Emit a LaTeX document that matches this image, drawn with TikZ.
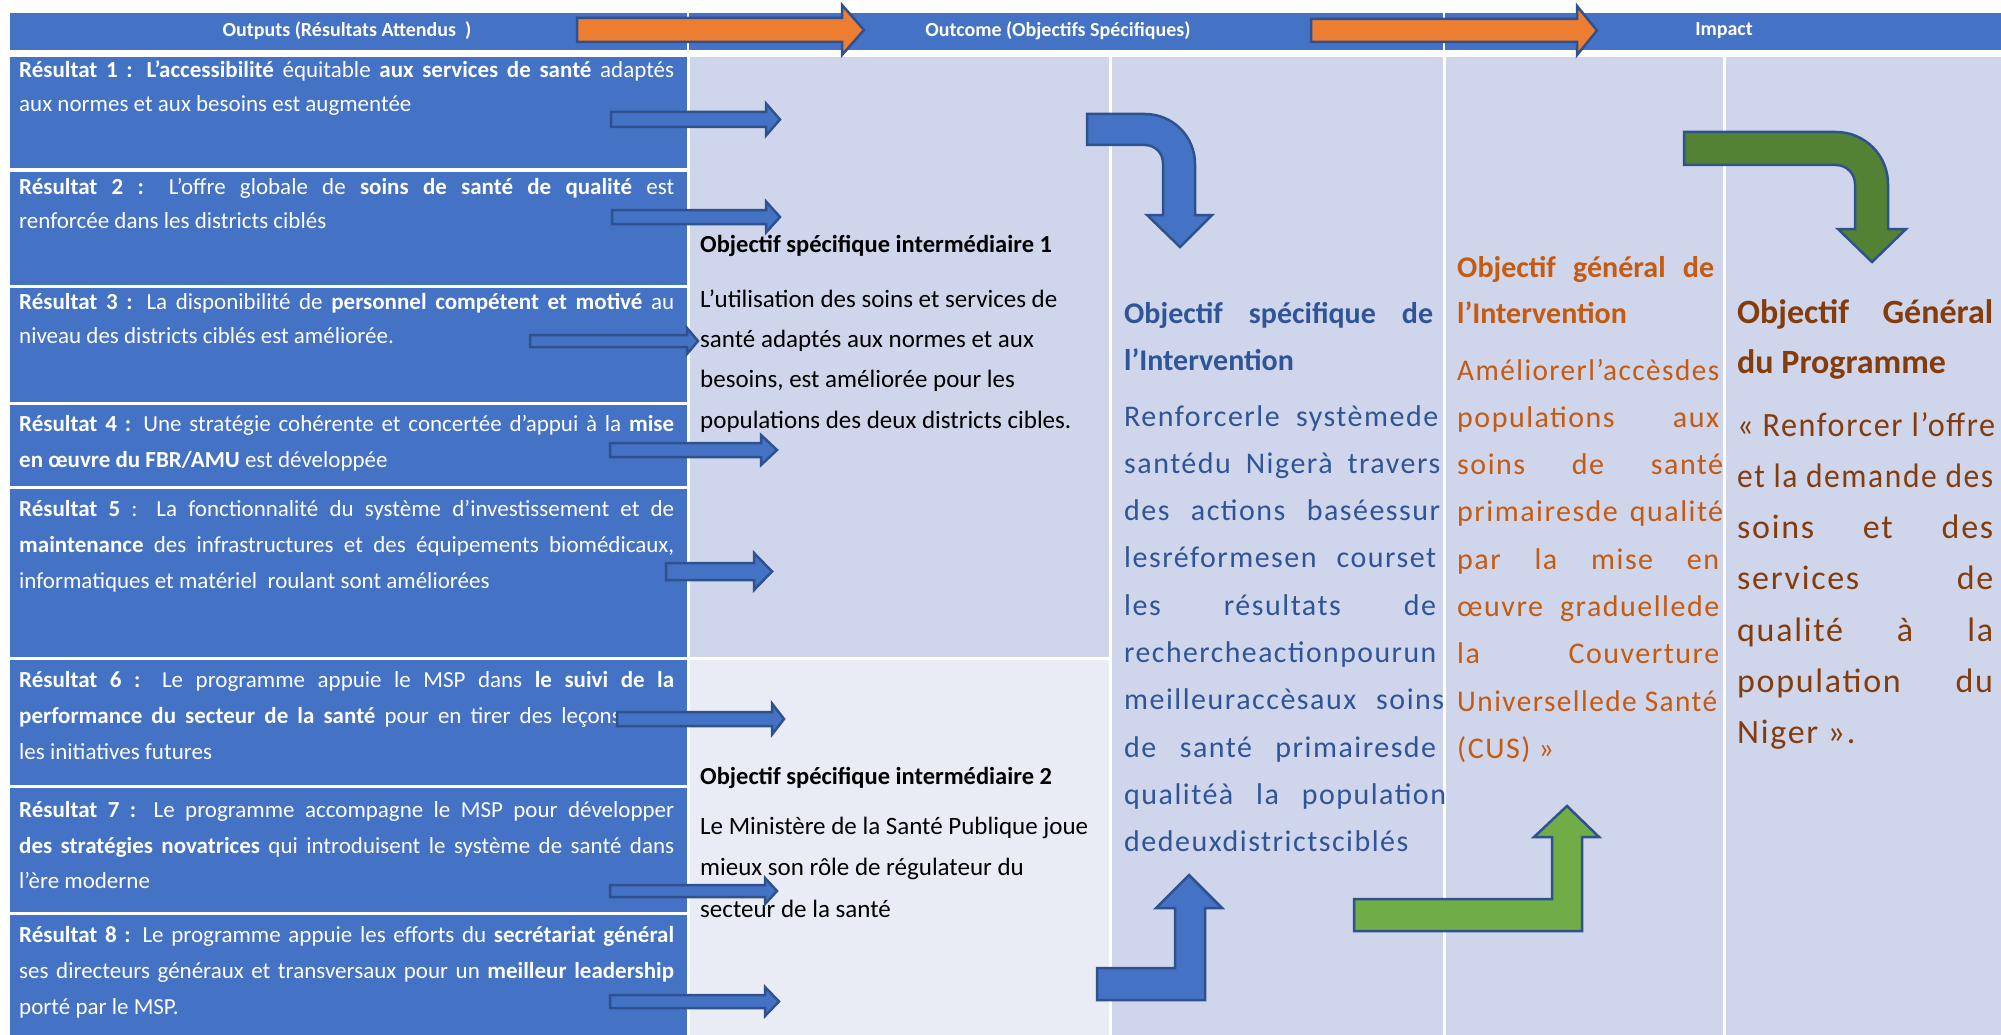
\documentclass[tikz,border=0pt]{standalone}
\usepackage{fontspec}
\usepackage{graphicx}
\setmainfont{Carlito}
\newfontfamily\lsp[LetterSpace=5]{Carlito}
\definecolor{hdr}{HTML}{4472C4}
\definecolor{lite}{HTML}{CFD5EA}
\definecolor{litetwo}{HTML}{E9EBF5}
\definecolor{bord}{HTML}{2F528F}
\definecolor{orng}{HTML}{ED7D31}
\definecolor{grnd}{HTML}{548235}
\definecolor{grnl}{HTML}{70AD47}
\definecolor{tblue}{HTML}{2F5597}
\definecolor{torange}{HTML}{C55A11}
\definecolor{tbrown}{HTML}{843C0C}
\newsavebox\jlbox
\newcommand\jl[2]{\sbox\jlbox{#2}\ifdim\wd\jlbox>#1\relax\resizebox{#1}{\height}{\usebox\jlbox}\else\makebox[#1][s]{#2}\fi}
\newcommand\rarr[7]{% style, x1, xtip, y, bodyhalf, headhalf, headlen
 \filldraw[#1] (#2,#4-#5) -- (#3-#7,#4-#5) -- (#3-#7,#4-#6) -- (#3,#4) -- (#3-#7,#4+#6) -- (#3-#7,#4+#5) -- (#2,#4+#5) -- cycle;}
\tikzset{
 lt/.style={anchor=base west, inner sep=0pt, text=white, font=\fontsize{23}{28}\selectfont},
 ct/.style={anchor=base west, inner sep=0pt, text=black, font=\fontsize{25}{30}\selectfont},
 cth/.style={anchor=base west, inner sep=0pt, text=black, font=\fontsize{24.5}{30}\selectfont\bfseries},
 bt/.style={anchor=base west, inner sep=0pt, text=tblue, font=\lsp\fontsize{30}{36}\selectfont},
 bth/.style={anchor=base west, inner sep=0pt, text=tblue, font=\fontsize{30}{36}\selectfont\bfseries},
 ot/.style={anchor=base west, inner sep=0pt, text=torange, font=\lsp\fontsize{30}{36}\selectfont},
 oth/.style={anchor=base west, inner sep=0pt, text=torange, font=\fontsize{30}{36}\selectfont\bfseries},
 gt/.style={anchor=base west, inner sep=0pt, text=tbrown, font=\lsp\fontsize{34}{40}\selectfont},
 gth/.style={anchor=base west, inner sep=0pt, text=tbrown, font=\fontsize{34}{40}\selectfont\bfseries},
 hd/.style={inner sep=0pt, text=white, font=\fontsize{20}{24}\selectfont\bfseries},
 barr/.style={fill=hdr, draw=bord, line width=2.5pt, line join=miter},
 oarr/.style={fill=orng, draw=bord, line width=2.5pt, line join=miter},
 gdarr/.style={fill=grnd, draw=bord, line width=2.5pt, line join=miter},
 glarr/.style={fill=grnl, draw=bord, line width=2.5pt, line join=miter},
 sep/.style={draw=white, line width=2.5pt}
}
\begin{document}
\begin{tikzpicture}[x=1pt,y=-1pt]
\useasboundingbox (0,0) rectangle (2001,1035);
\fill[white] (0,0) rectangle (2001,1035);
% header
\fill[hdr] (10,13) rectangle (2001,50);
\draw[sep] (688,13) -- (688,50);
\draw[sep] (1444,13) -- (1444,50);
% left cells
\fill[hdr] (10,57) rectangle (687,168);
\fill[hdr] (10,172) rectangle (687,285);
\fill[hdr] (10,288) rectangle (687,402);
\fill[hdr] (10,405) rectangle (687,486);
\fill[hdr] (10,489) rectangle (687,657);
\fill[hdr] (10,660) rectangle (687,785);
\fill[hdr] (10,788) rectangle (687,912);
\fill[hdr] (10,915) rectangle (687,1035);
% other columns
\fill[lite] (690,57) rectangle (1109,657);
\fill[litetwo] (690,660) rectangle (1109,1035);
\fill[lite] (1112,57) rectangle (1443,1035);
\fill[lite] (1446,57) rectangle (1723,1035);
\fill[lite] (1726,57) rectangle (2001,1035);
% header texts
\node[hd] (h1) at (347,31) {Outputs (Résultats Attendus~~)};
\node[hd] (h2) at (1058,31) {Outcome (Objectifs Spécifiques)};
\node[hd] (h3) at (1724,31) {Impact};
% left column texts
\node[lt] (r1a) at (19,78) {\jl{655pt}{\textbf{Résultat 1 : L’accessibilité} équitable \textbf{aux services de santé} adaptés}};
\node[lt] (r1b) at (19,112) {aux normes et aux besoins est augmentée};
\node[lt] (r2a) at (19,194) {\jl{655pt}{\textbf{Résultat 2 :} L’offre globale de \textbf{soins de santé de qualité} est}};
\node[lt] (r2b) at (19,228) {renforcée dans les districts ciblés};
\node[lt] (r3a) at (19,309) {\jl{655pt}{\textbf{Résultat 3 :} La disponibilité de \textbf{personnel compétent et motivé} au}};
\node[lt] (r3b) at (19,343) {niveau des districts ciblés est améliorée.};
\node[lt] (r4a) at (19,431) {\jl{655pt}{\textbf{Résultat 4 :} Une stratégie cohérente et concertée d’appui à la \textbf{mise}}};
\node[lt] (r4b) at (19,467) {\textbf{en œuvre du FBR/AMU} est développée};
\node[lt] (r5a) at (19,516) {\jl{655pt}{\textbf{Résultat 5} : La fonctionnalité du système d’investissement et de}};
\node[lt] (r5b) at (19,552) {\jl{655pt}{\textbf{maintenance} des infrastructures et des équipements biomédicaux,}};
\node[lt] (r5c) at (19,588) {informatiques et matériel \ roulant sont améliorées};
\node[lt] (r6a) at (19,687) {\jl{655pt}{\textbf{Résultat 6 :} Le programme appuie le MSP dans \textbf{le suivi de la}}};
\node[lt] (r6b) at (19,723) {\jl{655pt}{\textbf{performance du secteur de la santé} pour en tirer des leçons pour}};
\node[lt] (r6c) at (19,759) {les initiatives futures};
\node[lt] (r7a) at (19,817) {\jl{655pt}{\textbf{Résultat 7 :} Le programme accompagne le MSP pour développer}};
\node[lt] (r7b) at (19,853) {\jl{655pt}{\textbf{des stratégies novatrices} qui introduisent le système de santé dans}};
\node[lt] (r7c) at (19,888) {l’ère moderne};
\node[lt] (r8a) at (19,942) {\jl{655pt}{\textbf{Résultat 8 :} Le programme appuie les efforts du \textbf{secrétariat général}}};
\node[lt] (r8b) at (19,978) {\jl{655pt}{ses directeurs généraux et transversaux pour un \textbf{meilleur leadership}}};
\node[lt] (r8c) at (19,1014) {porté par le MSP.};
% column 2
\node[cth] (os1t) at (700,252) {Objectif spécifique intermédiaire 1};
\node[ct] (os1a) at (700,307) {L’utilisation des soins et services de};
\node[ct] (os1b) at (700,347) {santé adaptés aux normes et aux};
\node[ct] (os1c) at (700,387) {besoins, est améliorée pour les};
\node[ct] (os1d) at (700,428) {populations des deux districts cibles.};
\node[cth] (os2t) at (700,784) {Objectif spécifique intermédiaire 2};
\node[ct] (os2a) at (700,834) {Le Ministère de la Santé Publique joue};
\node[ct] (os2b) at (700,875) {mieux son rôle de régulateur du};
\node[ct] (os2c) at (700,917) {secteur de la santé};
% column 3
\node[bth] (c3t1) at (1124,323) {\jl{309pt}{Objectif spécifique de}};
\node[bth] (c3t2) at (1124,370) {l’Intervention};
\node[bt] (c3a) at (1124,426) {\jl{314pt}{Renforcerle systèmede}};
\node[bt] (c3b) at (1124,473.3) {\jl{316pt}{santédu Nigerà travers}};
\node[bt] (c3c) at (1124,520.6) {\jl{316pt}{des actions baséessur}};
\node[bt] (c3d) at (1124,567.9) {\jl{312pt}{lesréformesen courset}};
\node[bt] (c3e) at (1124,615.2) {\jl{312pt}{les résultats de}};
\node[bt] (c3f) at (1124,662.5) {\jl{312pt}{rechercheactionpourun}};
\node[bt] (c3g) at (1124,709.8) {\jl{320pt}{meilleuraccèsaux soins}};
\node[bt] (c3h) at (1124,757.1) {\jl{312pt}{de santé primairesde}};
\node[bt] (c3i) at (1124,804.4) {\jl{322pt}{qualitéà la population}};
\node[bt] (c3j) at (1124,851.7) {dedeuxdistrictsciblés};
% column 4
\node[oth] (c4t1) at (1457,277) {\jl{257pt}{Objectif général de}};
\node[oth] (c4t2) at (1457,323) {l’Intervention};
\node[ot] (c4a) at (1457,380) {\jl{262pt}{Améliorerl’accèsdes}};
\node[ot] (c4b) at (1457,427.3) {\jl{262pt}{populations aux}};
\node[ot] (c4c) at (1457,474.6) {\jl{266pt}{soins de santé}};
\node[ot] (c4d) at (1457,521.9) {\jl{266pt}{primairesde qualité}};
\node[ot] (c4e) at (1457,569.2) {\jl{262pt}{par la mise en}};
\node[ot] (c4f) at (1457,616.5) {\jl{262pt}{œuvre graduellede}};
\node[ot] (c4g) at (1457,663.8) {\jl{262pt}{la Couverture}};
\node[ot] (c4h) at (1457,711.1) {\jl{260pt}{Universellede Santé}};
\node[ot] (c4i) at (1457,758.4) {(CUS) »};
% column 5
\node[gth] (c5t1) at (1737,323) {\jl{256pt}{Objectif Général}};
\node[gth] (c5t2) at (1737,373) {du Programme};
\node[gt] (c5a) at (1737,436) {\jl{258pt}{« Renforcer l’offre}};
\node[gt] (c5b) at (1737,487.3) {\jl{256pt}{et la demande des}};
\node[gt] (c5c) at (1737,538.6) {\jl{256pt}{soins et des}};
\node[gt] (c5d) at (1737,589.9) {\jl{256pt}{services de}};
\node[gt] (c5e) at (1737,641.2) {\jl{256pt}{qualité à la}};
\node[gt] (c5f) at (1737,692.5) {\jl{256pt}{population du}};
\node[gt] (c5g) at (1737,743.8) {Niger ».};
% header orange arrows
\rarr{oarr}{577}{864}{30}{12}{25}{22}
\rarr{oarr}{1311}{1597}{30.5}{11.5}{24.5}{20}
% small blue right arrows
\rarr{barr}{611}{780}{119.5}{7.5}{16}{14}
\rarr{barr}{612}{780}{217}{7}{15.5}{14}
\rarr{barr}{530}{698}{341}{6}{13}{11}
\rarr{barr}{610}{777}{450}{7}{15}{16}
\rarr{barr}{666}{772}{571.5}{8.5}{18.5}{18}
\rarr{barr}{617}{784}{719}{7}{15.5}{12}
\rarr{barr}{610}{777}{891}{6}{13}{12}
\rarr{barr}{610}{779}{1001.5}{6.5}{14.5}{14}
% bent arrows
\filldraw[barr] (1087,114) -- (1145,114) arc[start angle=-90,end angle=0,radius=50] -- (1195,215) -- (1212,215) -- (1180,247) -- (1147,215) -- (1163,215) -- (1163,163) arc[start angle=0,end angle=-90,radius=18] -- (1087,145) -- cycle;
\filldraw[gdarr] (1684,132) -- (1836,132) arc[start angle=-90,end angle=0,radius=52] -- (1888,229) -- (1906,229) -- (1872,262) -- (1838,229) -- (1855,229) -- (1855,184) arc[start angle=0,end angle=-90,radius=19] -- (1684,165) -- cycle;
\filldraw[barr] (1097,968) -- (1175,968) -- (1175,908) -- (1156,908) -- (1189,875) -- (1222,908) -- (1205,908) -- (1205,1000) -- (1097,1000) -- cycle;
\filldraw[glarr] (1354,899) -- (1552,899) -- (1552,837) -- (1534,837) -- (1567,806) -- (1599,837) -- (1582,837) -- (1582,931) -- (1354,931) -- cycle;
\end{tikzpicture}
\end{document}
